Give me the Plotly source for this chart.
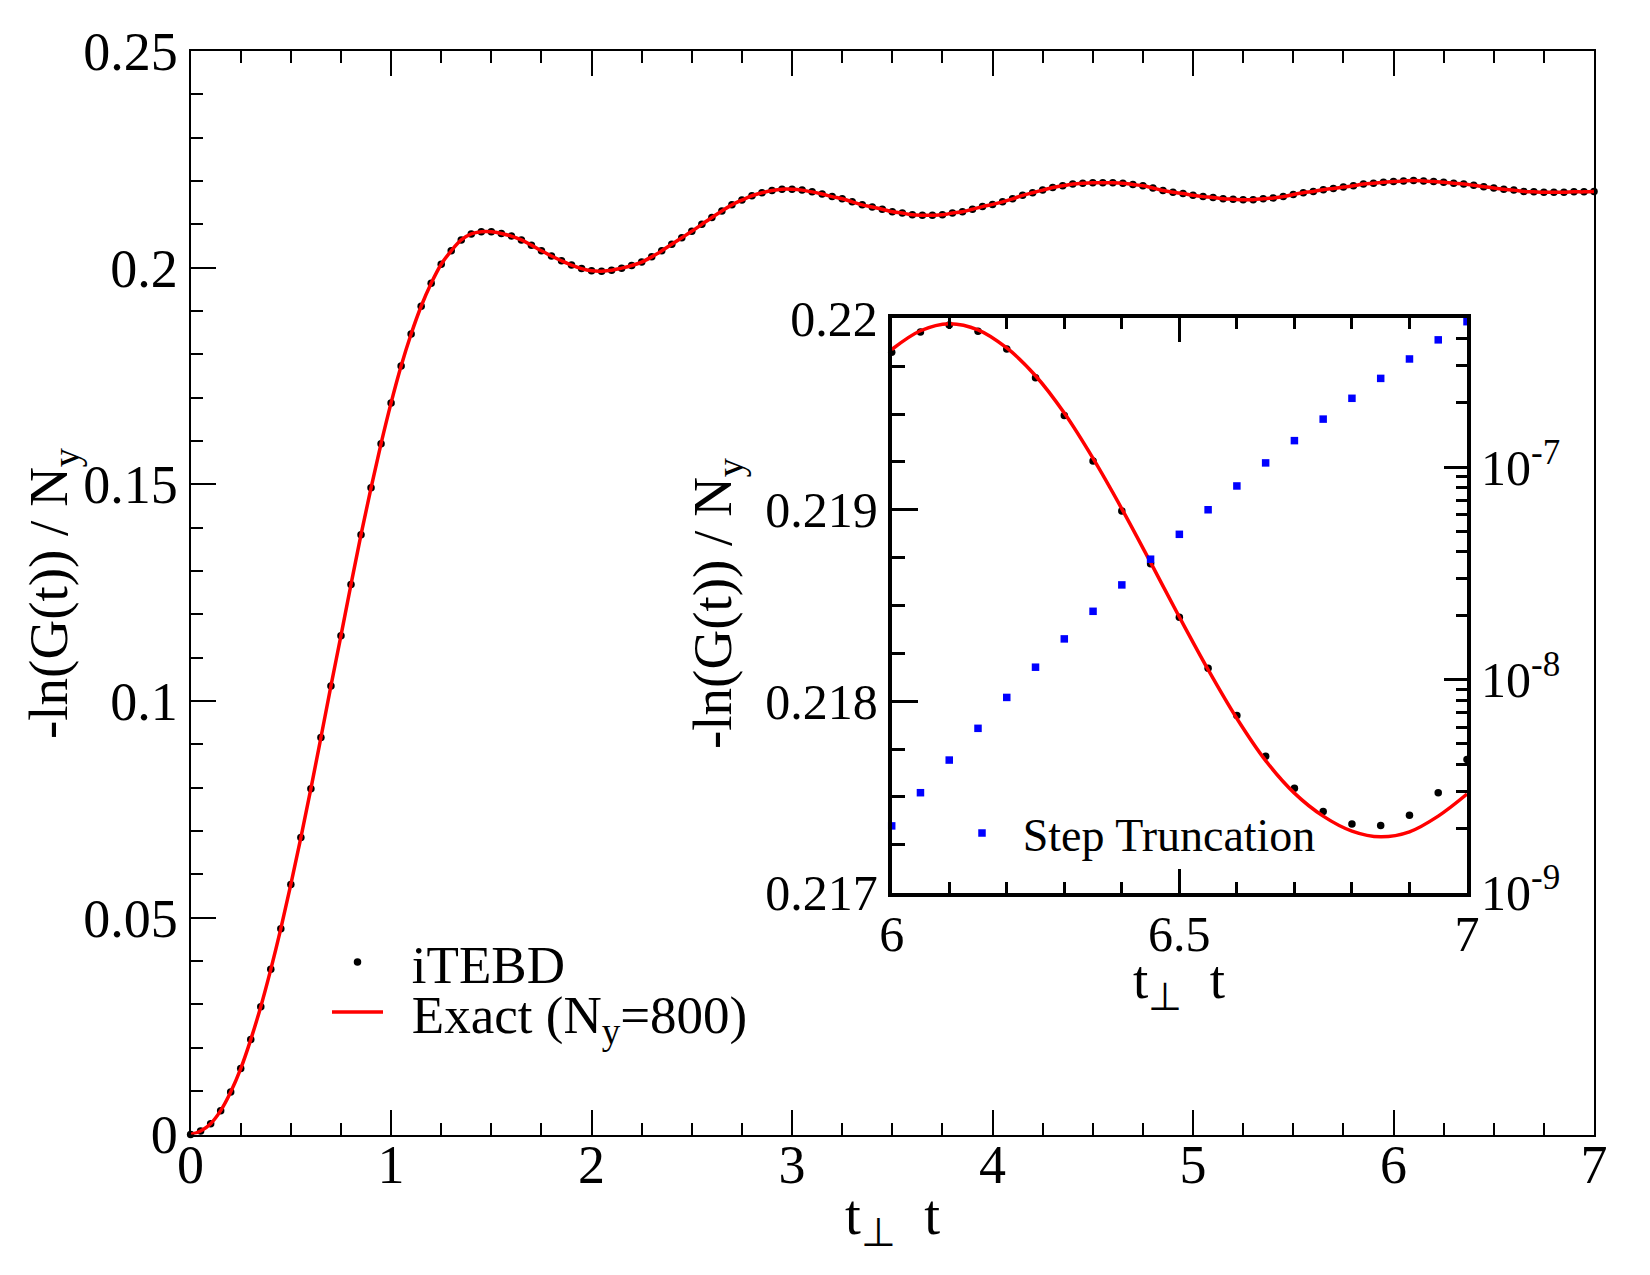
import numpy as np
import plotly.graph_objects as go

# ---------------- data ----------------
t_main = [round(0.05 * i, 2) for i in range(141)]
g_main = [
    0.0000, 0.0008, 0.0025, 0.0055, 0.0098, 0.0152, 0.0219, 0.0295, 0.0381, 0.0475,
    0.0577, 0.0685, 0.0798, 0.0916, 0.1035, 0.1151, 0.1269, 0.1384, 0.1492, 0.1594,
    0.1688, 0.1773, 0.1847, 0.1911, 0.1964, 0.2008, 0.2039, 0.2064, 0.2078, 0.2083,
    0.2083, 0.2079, 0.2073, 0.2064, 0.2052, 0.2039, 0.2027, 0.2016, 0.2006, 0.1998,
    0.1993, 0.1992, 0.1994, 0.1999, 0.2005, 0.2013, 0.2025, 0.2039, 0.2054, 0.2069,
    0.2084, 0.2100, 0.2116, 0.2131, 0.2145, 0.2156, 0.2166, 0.2173, 0.2178, 0.2181,
    0.2181, 0.2179, 0.2175, 0.2170, 0.2164, 0.2159, 0.2152, 0.2145, 0.2140, 0.2135,
    0.2129, 0.2126, 0.2122, 0.2121, 0.2121, 0.2122, 0.2126, 0.2129, 0.2135, 0.2141,
    0.2146, 0.2152, 0.2159, 0.2167, 0.2173, 0.2179, 0.2185, 0.2189, 0.2193, 0.2195,
    0.2196, 0.2196, 0.2196, 0.2195, 0.2192, 0.2189, 0.2184, 0.2178, 0.2174, 0.2171,
    0.2167, 0.2164, 0.2162, 0.2159, 0.2158, 0.2157, 0.2157, 0.2159, 0.2161, 0.2164,
    0.2169, 0.2173, 0.2176, 0.2180, 0.2183, 0.2186, 0.2189, 0.2193, 0.2195, 0.2197,
    0.2199, 0.2200, 0.2201, 0.2200, 0.2199, 0.2197, 0.2195, 0.2193, 0.2190, 0.2187,
    0.2184, 0.2181, 0.2179, 0.2176, 0.2175, 0.2174, 0.2174, 0.2174, 0.2175, 0.2175,
    0.2176,
]

t_inset = [round(6 + 0.05 * i, 2) for i in range(21)]
g_inset_itebd = [
    0.219823, 0.219929, 0.219965, 0.219933, 0.219840, 0.219689, 0.219492,
    0.219255, 0.218994, 0.218718, 0.218438, 0.218172, 0.217926, 0.217713,
    0.217546, 0.217424, 0.217359, 0.217351, 0.217404, 0.217522, 0.217696,
]
g_inset_exact = [
    0.219837, 0.219935, 0.219972, 0.219940, 0.219845, 0.219700, 0.219505,
    0.219268, 0.219005, 0.218725, 0.218440, 0.218165, 0.217910, 0.217690,
    0.217520, 0.217400, 0.217322, 0.217292, 0.217318, 0.217400, 0.217515,
]
trunc_err = [
    2.06e-9, 2.95e-9, 4.20e-9, 5.92e-9, 8.27e-9, 1.147e-8, 1.558e-8,
    2.10e-8, 2.794e-8, 3.69e-8, 4.83e-8, 6.30e-8, 8.15e-8, 1.046e-7,
    1.331e-7, 1.680e-7, 2.104e-7, 2.61e-7, 3.22e-7, 3.96e-7, 4.82e-7,
]

main_yticks = [0, 0.05, 0.1, 0.15, 0.2, 0.25]
inset_xticks = [6, 6.5, 7]
inset_xticktext = ["6", "6.5", "7"]
log_ticks = [1e-9, 1e-8, 1e-7]
log_ticktext = ["10<sup>-9</sup>", "10<sup>-8</sup>", "10<sup>-7</sup>"]
log_minor = [m * 10.0 ** e for e in (-9, -8, -7) for m in range(2, 10) if m * 10.0 ** e <= 5e-7]

# ---------------- figure ----------------
W, H = 1650, 1275
FONT = "Liberation Serif, Times New Roman, serif"
PAD = "\u00a0\u2009"


def px(xp):
    return xp / W


def py(yp):
    return 1 - yp / H


fig = go.Figure()

fig.add_trace(go.Scatter(
    x=t_main, y=g_main, mode="markers", name=PAD + "iTEBD",
    marker=dict(color="black", size=7.5), cliponaxis=False,
    xaxis="x", yaxis="y", legend="legend"))
fig.add_trace(go.Scatter(
    x=t_main, y=g_main, mode="lines", name=PAD + "Exact (N<sub>y</sub>=800)",
    line=dict(color="#ff0000", width=3.5, shape="spline"),
    xaxis="x", yaxis="y", legend="legend2"))

fig.add_trace(go.Scatter(
    x=t_inset, y=g_inset_itebd, mode="markers", showlegend=False,
    marker=dict(color="black", size=7.5), cliponaxis=False,
    xaxis="x2", yaxis="y2"))
fig.add_trace(go.Scatter(
    x=t_inset, y=g_inset_exact, mode="lines", showlegend=False,
    line=dict(color="#ff0000", width=3.5, shape="spline"),
    xaxis="x2", yaxis="y2"))
fig.add_trace(go.Scatter(
    x=t_inset, y=trunc_err, mode="markers", name=PAD + "Step Truncation",
    marker=dict(color="#0000ff", size=7.5, symbol="square"), cliponaxis=False,
    xaxis="x2", yaxis="y3", legend="legend3"))

main_x0, main_x1 = px(190.6), px(1594)
main_y0, main_y1 = py(1134.5), py(51)
ins_x0, ins_x1 = px(891.7), px(1467)
ins_y0, ins_y1 = py(892.7), py(318.3)

common = dict(showgrid=False, zeroline=False, showline=True, linecolor="black",
              ticks="inside", tickcolor="black", automargin=False)

fig.update_layout(
    width=W, height=H,
    margin=dict(l=0, r=0, t=0, b=0),
    paper_bgcolor="white", plot_bgcolor="rgba(0,0,0,0)",
    font=dict(family=FONT, color="black"),
    xaxis=dict(domain=[main_x0, main_x1], anchor="y", range=[0, 7],
               tickmode="linear", tick0=0, dtick=1, ticklen=25, tickwidth=2,
               linewidth=2, mirror="ticks", ticklabelstandoff=-18,
               tickfont=dict(size=54, family=FONT),
               minor=dict(ticks="inside", dtick=0.25, tick0=0, ticklen=12,
                          tickwidth=2, tickcolor="black"),
               **common),
    yaxis=dict(domain=[main_y0, main_y1], anchor="x", range=[0, 0.25],
               tickmode="array", tickvals=main_yticks, ticklen=25, tickwidth=2,
               linewidth=2, mirror=True,
               tickfont=dict(size=54, family=FONT),
               minor=dict(ticks="inside", dtick=0.01, tick0=0, ticklen=12,
                          tickwidth=2, tickcolor="black"),
               **common),
    xaxis2=dict(domain=[ins_x0, ins_x1], anchor="y2", range=[6, 7],
                tickmode="array", tickvals=inset_xticks, ticktext=inset_xticktext,
                ticklen=24, tickwidth=2.5, linewidth=4, mirror="ticks",
                ticklabelstandoff=-6,
                tickfont=dict(size=50, family=FONT),
                minor=dict(ticks="inside", dtick=0.1, tick0=6, ticklen=11,
                           tickwidth=2.5, tickcolor="black"),
                **common),
    yaxis2=dict(domain=[ins_y0, ins_y1], anchor="x2", range=[0.217, 0.22],
                tickmode="linear", tick0=0.217, dtick=0.001,
                ticklen=26, tickwidth=2.5, linewidth=4,
                tickfont=dict(size=50, family=FONT),
                minor=dict(ticks="inside", dtick=0.00025, tick0=0.217, ticklen=13,
                           tickwidth=2.5, tickcolor="black"),
                **common),
    yaxis3=dict(overlaying="y2", anchor="x2", side="right", type="log",
                range=[-9, np.log10(5e-7)],
                tickmode="array", tickvals=log_ticks, ticktext=log_ticktext,
                ticklen=23, tickwidth=2.5, linewidth=4,
                tickfont=dict(size=50, family=FONT),
                minor=dict(ticks="inside", tickmode="array", tickvals=log_minor,
                           ticklen=11, tickwidth=2.5, tickcolor="black"),
                **common),
    legend=dict(x=px(327), y=py(962), xanchor="left", yanchor="middle",
                bgcolor="rgba(0,0,0,0)", borderwidth=0, itemwidth=51,
                font=dict(size=53, family=FONT)),
    legend2=dict(x=px(327), y=py(1012), xanchor="left", yanchor="middle",
                 bgcolor="rgba(0,0,0,0)", borderwidth=0, itemwidth=51,
                 font=dict(size=53, family=FONT)),
    legend3=dict(x=px(962), y=py(833), xanchor="left", yanchor="middle",
                 bgcolor="rgba(0,0,0,0)", borderwidth=0, itemwidth=30,
                 font=dict(size=46, family=FONT)),
)

annotations = [
    dict(text="t<sub>⊥</sub>\u00a0\u00a0t", x=px(892), y=py(1219), xref="paper", yref="paper",
         xanchor="center", yanchor="middle", showarrow=False,
         font=dict(size=57, family=FONT)),
    dict(text="-ln(G(t)) / N<sub>y</sub>", x=px(52), y=py(593), xref="paper", yref="paper",
         xanchor="center", yanchor="middle", showarrow=False, textangle=-90,
         font=dict(size=55, family=FONT)),
    dict(text="t<sub>⊥</sub>\u00a0\u00a0t", x=px(1179), y=py(983), xref="paper", yref="paper",
         xanchor="center", yanchor="middle", showarrow=False,
         font=dict(size=55, family=FONT)),
    dict(text="-ln(G(t)) / N<sub>y</sub>", x=px(716), y=py(603), xref="paper", yref="paper",
         xanchor="center", yanchor="middle", showarrow=False, textangle=-90,
         font=dict(size=55, family=FONT)),
]
fig.update_layout(annotations=annotations)

fig.write_html("out.html")
